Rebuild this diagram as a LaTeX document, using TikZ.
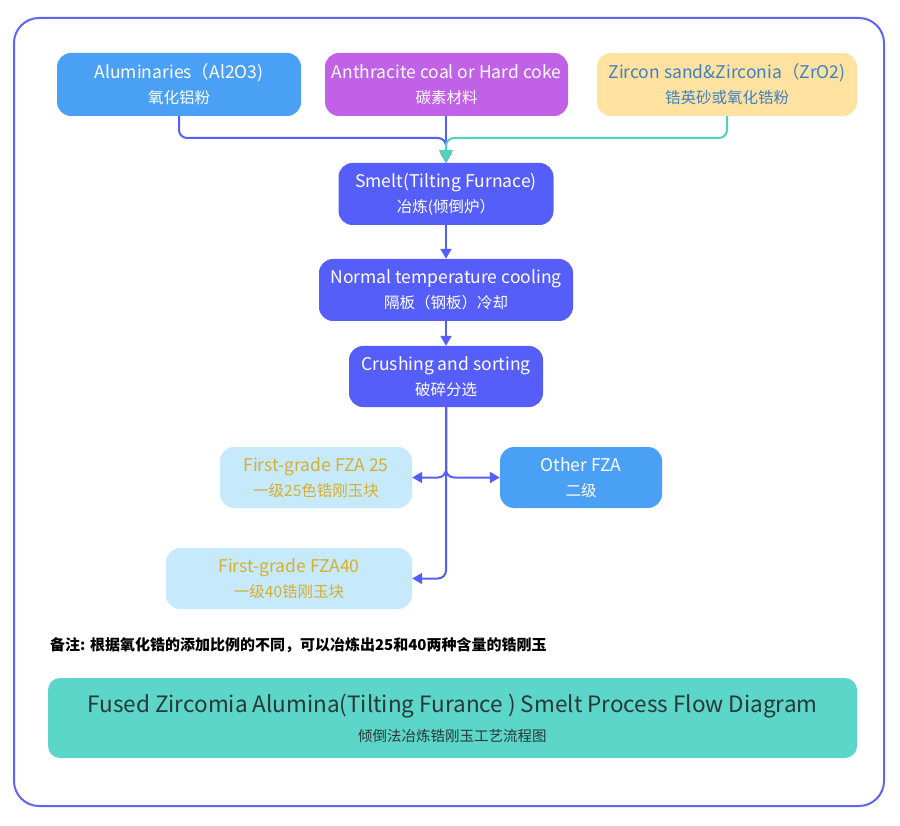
\documentclass[tikz,border=0pt]{standalone}
\usepackage{fontspec}
\setmainfont{Noto Sans CJK SC}
\usetikzlibrary{arrows.meta}
\definecolor{frame}{RGB}{96,100,246}
\definecolor{nblue}{RGB}{74,160,245}
\definecolor{npurple}{RGB}{192,97,232}
\definecolor{nyellow}{RGB}{255,226,160}
\definecolor{ztext}{RGB}{64,128,192}
\definecolor{violet}{RGB}{86,94,250}
\definecolor{lblue}{RGB}{198,233,252}
\definecolor{gold}{RGB}{212,176,48}
\definecolor{teal}{RGB}{92,214,200}
\definecolor{tline}{RGB}{80,210,190}
\definecolor{ttext}{RGB}{40,56,56}
\tikzset{
  box/.style={rounded corners=14pt, align=center, inner sep=0pt, font=\fontsize{17.5}{25}\selectfont},
  conn/.style={draw=violet, line width=2pt, rounded corners=8pt, -{Triangle[width=11pt,length=10pt]}},
}
\newcommand{\subt}[1]{{\fontsize{15.5}{25}\selectfont #1}}
\newcommand{\tsubt}[1]{{\fontsize{14.5}{29}\selectfont #1}}
\begin{document}
\begin{tikzpicture}[x=1pt,y=-1pt]
\useasboundingbox (0,0) rectangle (900,826);
\draw[frame, line width=2pt, rounded corners=25pt] (14,18) rectangle (884,806);

\node[box, fill=nblue, text=white, minimum width=244pt, minimum height=63pt] (alum) at (179,84.5) {Aluminaries（Al2O3)\\\subt{氧化铝粉}};
\node[box, fill=npurple, text=white, minimum width=243pt, minimum height=63pt] (anth) at (446.5,84.5) {Anthracite coal or Hard coke\\\subt{碳素材料}};
\node[box, fill=nyellow, text=ztext, minimum width=260pt, minimum height=63pt] (zirc) at (727,84.5) {Zircon sand\&Zirconia（ZrO2)\\\subt{锆英砂或氧化锆粉}};

\node[box, fill=violet, text=white, minimum width=215pt, minimum height=62pt] (smelt) at (446,194) {Smelt(Tilting Furnace)\\\subt{冶炼(倾倒炉）}};
\node[box, fill=violet, text=white, minimum width=254pt, minimum height=62pt] (cool) at (446,290) {Normal temperature cooling\\\subt{隔板（钢板）冷却}};
\node[box, fill=violet, text=white, minimum width=194pt, minimum height=61pt] (crush) at (446,376.5) {Crushing and sorting\\\subt{破碎分选}};

\node[box, fill=lblue, text=gold, minimum width=192pt, minimum height=61pt] (f25) at (316,477.5) {First-grade FZA 25\\\subt{一级25色锆刚玉块}};
\node[box, fill=nblue, text=white, minimum width=162pt, minimum height=61pt] (other) at (581,477.5) {Other FZA\\\subt{二级}};
\node[box, fill=lblue, text=gold, minimum width=246pt, minimum height=61pt] (f40) at (289,578.5) {First-grade FZA40\\\subt{一级40锆刚玉块}};

\node[anchor=west, inner sep=0pt, font=\bfseries\fontsize{15}{18}\selectfont] (note) at (50,645) {备注: 根据氧化锆的添加比例的不同，可以冶炼出25和40两种含量的锆刚玉};

\node[box, rounded corners=12pt, fill=teal, text=ttext, minimum width=809pt, minimum height=80pt, font=\fontsize{22.5}{29}\selectfont] (title) at (452.5,718) {Fused Zircomia Alumina(Tilting Furance ) Smelt Process Flow Diagram\\\tsubt{倾倒法冶炼锆刚玉工艺流程图}};

\coordinate (j) at (446,138);
\draw[conn] (alum.south) |- (j) -- (smelt.north);
\draw[conn] (anth.south -| smelt.north) -- (smelt.north);
\draw[conn, draw=tline, -{Triangle[width=14pt,length=13pt]}] (zirc.south) |- (j) -- (smelt.north);
\draw[conn] (smelt.south) -- (cool.north);
\draw[conn] (cool.south) -- (crush.north);
\draw[conn] (crush.south) |- (f25.east);
\draw[conn] (crush.south) |- (other.west);
\draw[conn] (crush.south) |- (f40.east);
\end{tikzpicture}
\end{document}
